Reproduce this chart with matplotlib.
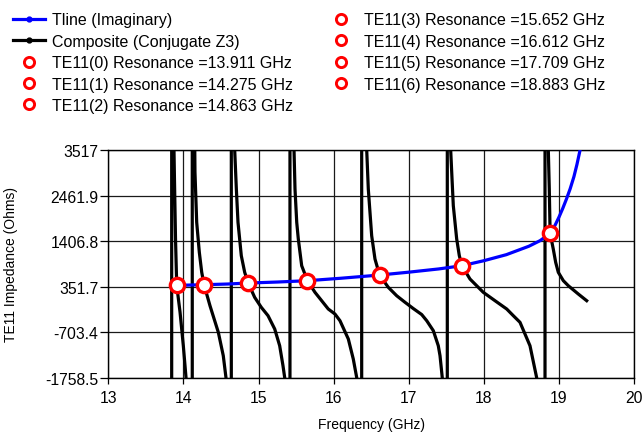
import matplotlib
matplotlib.use("Agg")
import matplotlib.pyplot as plt
from matplotlib.lines import Line2D

plt.rcParams['font.family'] = ['Liberation Sans', 'DejaVu Sans']

# ---- axis definitions ----
x_ticks = [13, 14, 15, 16, 17, 18, 19, 20]
y_ticks = [-1758.5, -703.4, 351.7, 1406.8, 2461.9, 3517]
y_tick_labels = ["-1758.5", "-703.4", "351.7", "1406.8", "2461.9", "3517"]

# ---- transmission line (imaginary part) ----
tline_freq = [13.844, 13.911, 14.275, 14.59, 14.863, 15.25, 15.652, 16.1, 16.612,
              17.0, 17.4, 17.709, 18.0, 18.3, 18.6, 18.75, 18.883, 18.95, 19.0,
              19.05, 19.1, 19.15, 19.2, 19.24, 19.28, 19.33]
tline_z = [378, 385, 400, 416, 439, 462, 493, 550, 624,
           690, 765, 840, 955, 1095, 1290, 1420, 1589, 1780, 1960,
           2160, 2380, 2620, 2900, 3180, 3500, 3950]

# ---- composite (conjugate Z3): poles and the branch between each pole ----
pole_freq = [13.844, 14.118, 14.638, 15.419, 16.374, 17.514, 18.815]

branch0_f = [13.868, 13.881, 13.895, 13.911, 13.955, 13.999, 14.035, 14.048]
branch0_z = [4234, 2846, 1458, 385, -232, -1012, -1752, -2245]

branch1_f = [14.148, 14.154, 14.177, 14.212, 14.244, 14.275, 14.354, 14.465,
             14.531, 14.567, 14.580]
branch1_z = [4234, 3008, 1844, 1150, 687, 400, -86, -701, -1243, -1752, -2245]

branch2_f = [14.675, 14.683, 14.705, 14.727, 14.771, 14.816, 14.863, 14.949,
             15.037, 15.127, 15.216, 15.282, 15.326, 15.349, 15.36]
branch2_z = [4300, 3517, 2615, 1844, 1071, 687, 439, 108, -123, -317, -625,
             -1012, -1474, -1752, -2245]

branch3_f = [15.465, 15.473, 15.486, 15.509, 15.530, 15.575, 15.652, 15.752,
             15.841, 15.929, 16.018, 16.085, 16.196, 16.262, 16.308, 16.32]
branch3_z = [4300, 3517, 2615, 1844, 1458, 840, 493, 224, 30, -162, -278,
             -433, -856, -1319, -1752, -2245]

branch4_f = [16.433, 16.441, 16.462, 16.507, 16.551, 16.612, 16.728, 16.840,
             16.951, 17.06, 17.173, 17.24, 17.328, 17.394, 17.417, 17.447, 17.46]
branch4_z = [4300, 3517, 2615, 1534, 995, 624, 340, 145, -7, -150, -290,
             -433, -664, -1012, -1243, -1752, -2245]

branch5_f = [17.551, 17.559, 17.577, 17.594, 17.639, 17.674, 17.709, 17.816,
             17.993, 18.149, 18.305, 18.393, 18.482, 18.615, 18.704, 18.72]
branch5_z = [4300, 3517, 2846, 2228, 1458, 1071, 840, 532, 224, 30, -162,
             -317, -470, -1012, -1752, -2245]

branch6_f = [18.855, 18.859, 18.872, 18.883, 18.925, 18.957, 18.992, 19.059,
             19.125, 19.258, 19.370]
branch6_z = [4300, 3517, 2615, 1589, 1226, 918, 687, 493, 377, 185, 30]

# ---- resonance points ----
res_freq = [13.911, 14.275, 14.863, 15.652, 16.612, 17.709, 18.883]
res_z = [385, 400, 439, 493, 624, 840, 1589]

branches = [(branch0_f, branch0_z), (branch1_f, branch1_z), (branch2_f, branch2_z),
            (branch3_f, branch3_z), (branch4_f, branch4_z), (branch5_f, branch5_z),
            (branch6_f, branch6_z)]

# Join branches into one trace; each pole is a jump from -inf to +inf.
JUMP = 30000
comp_f, comp_z = [], []
for pole, (bf, bz) in zip(pole_freq, branches):
    comp_f += [pole, pole] + list(bf)
    comp_z += [-JUMP, JUMP] + list(bz)

fig = plt.figure(figsize=(6.42, 4.35), dpi=100)
ax = fig.add_axes([108.3 / 642, 1 - 379 / 435, (634 - 108.3) / 642, (379 - 151) / 435])

ax.plot(comp_f, comp_z, color='black', lw=2.3, solid_joinstyle='round', zorder=3)
ax.plot(tline_freq, tline_z, color='#0000ff', lw=2.3, solid_joinstyle='round', zorder=4)
ax.plot(res_freq, res_z, linestyle='none', marker='o', ms=10.3, mfc='white',
        mec='#ff0000', mew=2.4, zorder=5)

ax.set_xlim(13, 20)
ax.set_ylim(y_ticks[0], y_ticks[-1])
ax.set_xticks(x_ticks)
ax.set_xticklabels([str(t) for t in x_ticks])
ax.set_yticks(y_ticks)
ax.set_yticklabels(y_tick_labels)
ax.grid(True, color='#1a1a1a', lw=0.9)
ax.set_axisbelow(True)
for s in ax.spines.values():
    s.set_color('black')
    s.set_linewidth(1.0)
ax.tick_params(axis='y', length=5.5, width=0.9, pad=1.5, labelsize=11.3, colors='black')
ax.tick_params(axis='x', length=4.3, width=0.9, pad=4.5, labelsize=11.3, colors='black')

fig.text(11 / 642, 1 - 264 / 435, "TE11 Impedance (Ohms)", rotation=90,
         ha='center', va='center', fontsize=10)
fig.text(371 / 642, 1 - 425 / 435, "Frequency (GHz)", ha='center', va='center',
         fontsize=10)

handles = [
    Line2D([], [], color='#0000ff', lw=2.3, marker='o', ms=3.5),
    Line2D([], [], color='black', lw=2.3, marker='o', ms=3.5),
]
labels = ["Tline (Imaginary)", "Composite (Conjugate Z3)"]
for i, f in enumerate(res_freq):
    handles.append(Line2D([], [], linestyle='none', marker='o', ms=7.3, mfc='white',
                          mec='#ff0000', mew=2.1))
    labels.append(f"TE11({i}) Resonance ={f:.3f} GHz")

fig.legend(handles, labels, ncol=2, loc='upper left',
           bbox_to_anchor=(13 / 642, 1 - 13.5 / 435), frameon=False, fontsize=11.5,
           handlelength=2.0, handletextpad=0.45, columnspacing=2.0,
           labelspacing=0.4, borderpad=0, borderaxespad=0)

fig.savefig("out.png", dpi=100)
